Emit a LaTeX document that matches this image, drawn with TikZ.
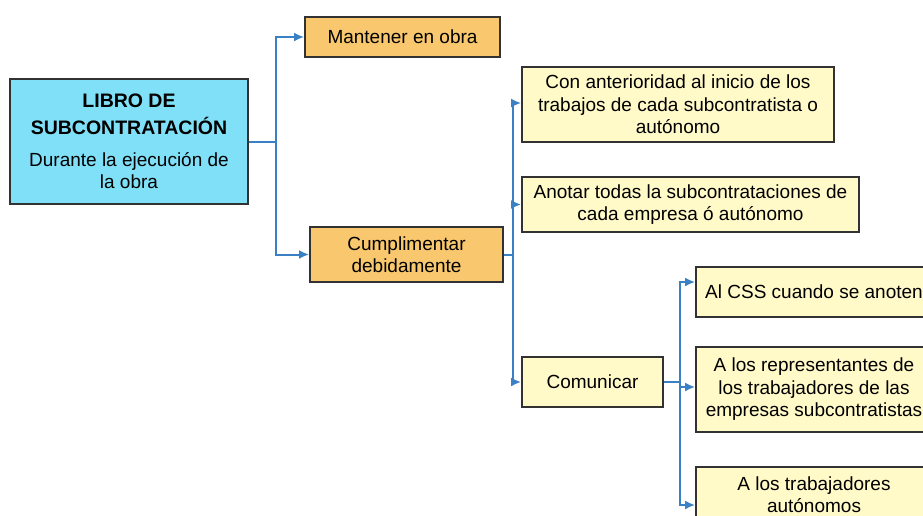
\documentclass[tikz,border=0pt]{standalone}
\usepackage{fontspec}
\setmainfont{Liberation Sans}
\usetikzlibrary{arrows.meta}
\definecolor{cyanbox}{RGB}{128,224,248}
\definecolor{orangebox}{RGB}{249,200,110}
\definecolor{yellowbox}{RGB}{255,250,200}
\definecolor{edge}{RGB}{50,50,50}
\definecolor{connblue}{RGB}{58,128,196}
\tikzset{
  box/.style={draw=edge, line width=1.8pt, rectangle, align=center, inner sep=0pt,
    font=\fontsize{19}{22.5}\selectfont},
  mainbox/.style={box, fill=cyanbox},
  orangenode/.style={box, fill=orangebox},
  yellownode/.style={box, fill=yellowbox},
  conn/.style={draw=connblue, line width=2pt, -{Latex[length=10pt,width=9pt]}},
}
\begin{document}
\begin{tikzpicture}[x=1pt,y=-1pt]
\useasboundingbox (0,0) rectangle (923,515);
\clip (0,0) rectangle (923,515);
\fill[white] (0,0) rectangle (923,515);

\node[mainbox, minimum width=238pt, minimum height=125pt] (main) at (129,141.5)
  {{\fontsize{19.5}{22.5}\selectfont\bfseries LIBRO DE}\\[4.5pt]{\fontsize{19.5}{22.5}\selectfont\bfseries SUBCONTRATACIÓN}\\[9.5pt]Durante la ejecución de\\la obra};
\node[orangenode, minimum width=195pt, minimum height=40pt] (mant) at (402.5,37) {Mantener en obra};
\node[orangenode, minimum width=193pt, minimum height=55pt] (cump) at (406.5,254.5) {Cumplimentar\\debidamente};
\node[yellownode, minimum width=312pt, minimum height=75pt] (con) at (678,104.5)
  {Con anterioridad al inicio de los\\trabajos de cada subcontratista o\\autónomo};
\node[yellownode, minimum width=337pt, minimum height=55pt] (anot) at (690.5,204.5)
  {Anotar todas la subcontrataciones de\\cada empresa ó autónomo};
\node[yellownode, minimum width=141pt, minimum height=50pt] (comu) at (592.5,382) {Comunicar};
\node[yellownode, minimum width=236pt, minimum height=50pt] (css) at (814,292) {Al CSS cuando se anoten};
\node[yellownode, minimum width=236pt, minimum height=85pt] (rep) at (814,389.5)
  {A los representantes de\\los trabajadores de las\\empresas subcontratistas};
\node[yellownode, minimum width=236pt, minimum height=55pt] (aut) at (814,494.5)
  {A los trabajadores\\autónomos};

\draw[conn] (main.east) -- ++(27,0) |- (mant.west);
\draw[conn] (main.east) -- ++(27,0) |- (cump.west);

\draw[conn] (cump.east) -- ++(9,0) |- ([yshift=1.5pt]con.west);
\draw[conn] (cump.east) -- ++(9,0) |- (anot.west);
\draw[conn] (cump.east) -- ++(9,0) |- (comu.west);

\draw[conn] (comu.east) -- ++(16,0) |- ([yshift=10pt]css.west);
\draw[conn] (comu.east) -- ++(16,0) |- ([yshift=2.5pt]rep.west);
\draw[conn] (comu.east) -- ++(16,0) |- ([yshift=-10.5pt]aut.west);
\end{tikzpicture}
\end{document}
